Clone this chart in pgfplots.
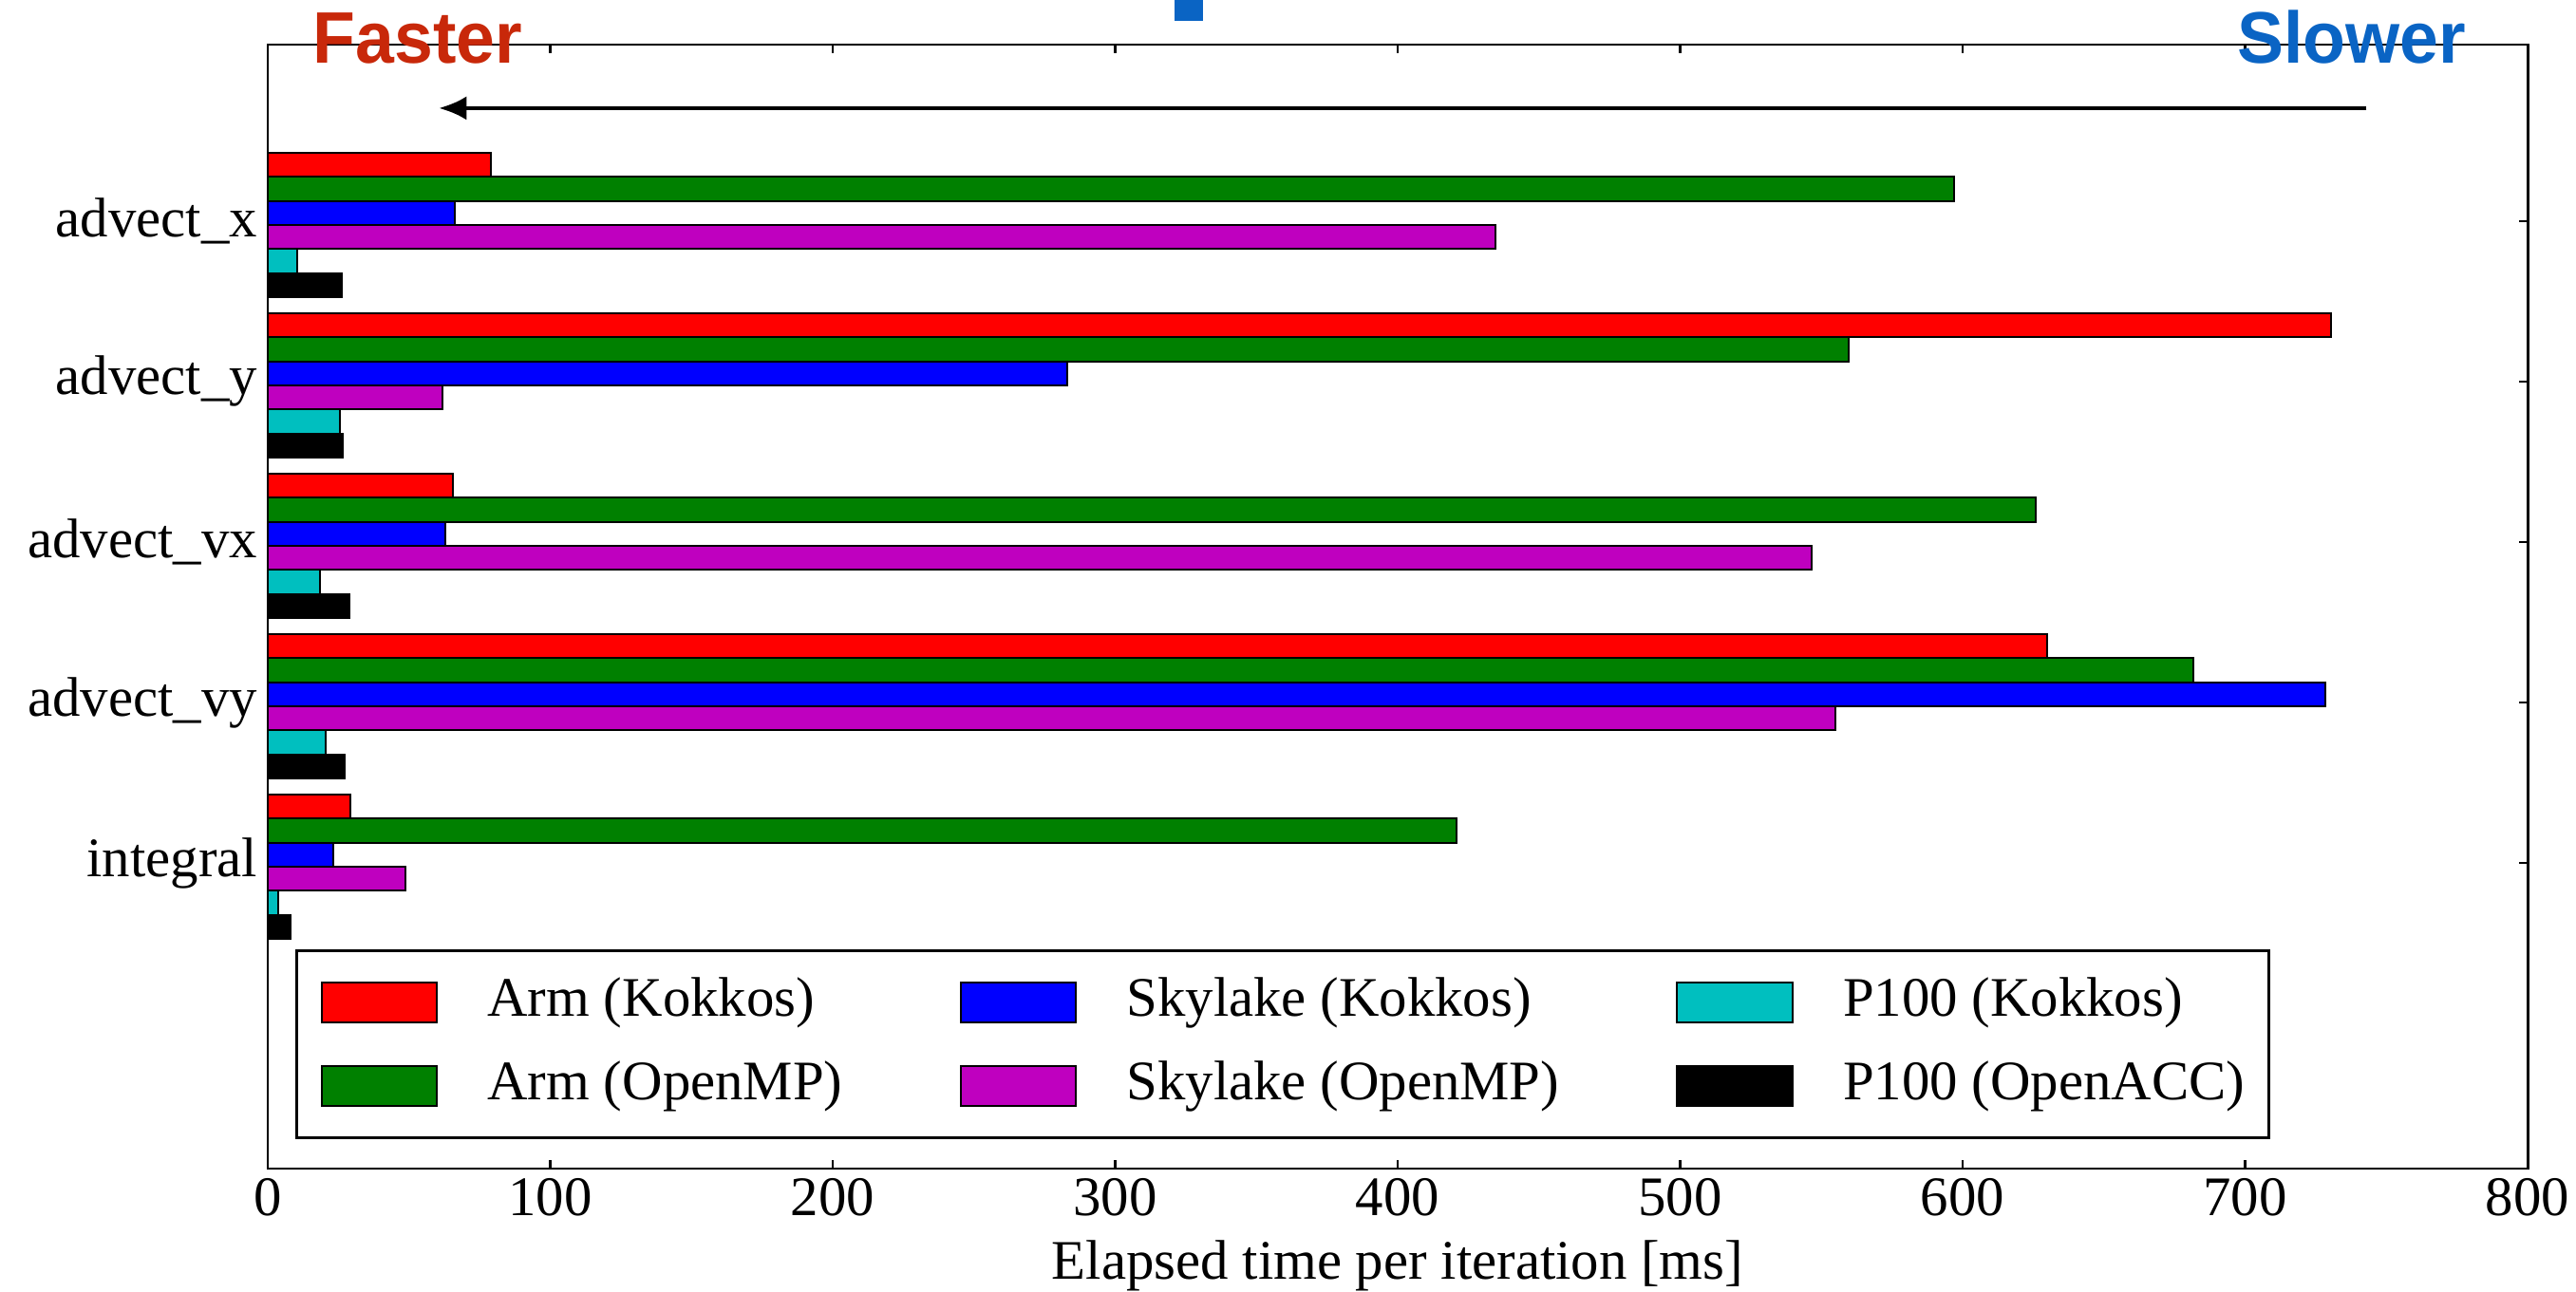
\documentclass[border=0pt]{standalone}
\usepackage{fontspec}
\setmainfont{Liberation Serif}
\newfontfamily\arialfont{Liberation Sans}
\usepackage{pgfplots}
\pgfplotsset{compat=1.18}
\usetikzlibrary{arrows.meta}
\definecolor{mgreen}{rgb}{0,0.5,0}
\definecolor{mmag}{rgb}{0.75,0,0.75}
\definecolor{mcyan}{rgb}{0,0.75,0.75}
\definecolor{fasterred}{RGB}{200,40,10}
\definecolor{slowerblue}{RGB}{10,100,196}
\begin{document}
\begin{tikzpicture}
\begin{axis}[
  name=ax,
  scale only axis,
  width=566.67pt, height=281.9pt,
  xbar, bar width=0.15,
  xmin=0, xmax=800,
  ymin=-1.10, ymax=5.905,
  y dir=reverse,
  clip=false,
  xtick={0,100,...,800},
  ytick={0,1,2,3,4},
  yticklabels={advect\_x,advect\_y,advect\_vx,advect\_vy,integral},
  xtick pos=both, ytick pos=both,
  tick align=inside,
  major tick length=2.2pt,
  tick style={black, line width=0.5pt},
  axis line style={line width=0.7pt},
  /pgf/number format/assume math mode=true,
  tick label style={font=\fontsize{14}{16}\selectfont},
  xticklabel style={anchor=base, yshift=-11.9pt},
  yticklabel style={inner xsep=2.4pt},
  xlabel={Elapsed time per iteration [ms]},
  xlabel style={font=\fontsize{14}{16}\selectfont, at={(axis description cs:0.5,-0.098)}, anchor=base},
  legend columns=3,
  legend cell align=left,
  legend style={at={(0.0122,0.0262)}, anchor=south west, draw=black, line width=0.6pt, fill=white,
    inner xsep=6pt, inner ysep=6pt, row sep=7pt,
    nodes={inner sep=0pt, text height=10.5pt, text depth=3.5pt, font=\fontsize{14}{16}\selectfont},
    /tikz/every even column/.append style={column sep=29.3pt}},
  every axis plot post/.append style={legend image code/.code={\draw[##1] (0pt,-5pt) rectangle (29pt,5pt); \path (41.4pt,0pt);}},
]
\addplot[fill=red, draw=black, line width=0.5pt, bar shift=-0.351] coordinates {(79,0) (730.4,1) (65.6,2) (630,3) (29.3,4)};
\addlegendentry{Arm (Kokkos)}
\addplot[fill=blue, draw=black, line width=0.5pt, bar shift=-0.051] coordinates {(66.2,0) (283,1) (62.9,2) (728.3,3) (23.2,4)};
\addlegendentry{Skylake (Kokkos)}
\addplot[fill=mcyan, draw=black, line width=0.5pt, bar shift=0.249] coordinates {(10.4,0) (25.6,1) (18.5,2) (20.5,3) (3.7,4)};
\addlegendentry{P100 (Kokkos)}
\addplot[fill=mgreen, draw=black, line width=0.5pt, bar shift=-0.201] coordinates {(597,0) (559.7,1) (625.8,2) (681.8,3) (420.8,4)};
\addlegendentry{Arm (OpenMP)}
\addplot[fill=mmag, draw=black, line width=0.5pt, bar shift=0.099] coordinates {(434.6,0) (61.9,1) (546.4,2) (555,3) (48.7,4)};
\addlegendentry{Skylake (OpenMP)}
\addplot[fill=black, draw=black, line width=0.5pt, bar shift=0.399] coordinates {(26.2,0) (26.6,1) (28.9,2) (27.3,3) (8.1,4)};
\addlegendentry{P100 (OpenACC)}
\draw[-{Latex[length=7pt,width=6pt]}, line width=1.1pt] (axis cs:743,-0.704) -- (axis cs:60.5,-0.704);
\coordinate (fpos) at (axis cs:15.8,-0.982);
\coordinate (spos) at (axis cs:778.5,-0.982);
\fill[slowerblue] (axis cs:321,-1.42) rectangle (axis cs:331,-1.248);
\end{axis}
\node[anchor=base west, inner sep=0pt, xscale=0.955, text=fasterred, font=\arialfont\bfseries\fontsize{18.3}{20}\selectfont] at (fpos) {Faster};
\node[anchor=base east, inner sep=0pt, xscale=0.955, text=slowerblue, font=\arialfont\bfseries\fontsize{18.3}{20}\selectfont] at (spos) {Slower};
\pgfresetboundingbox
\path[use as bounding box] ([xshift=-67.14pt,yshift=-30.95pt]ax.south west) rectangle ([xshift=12.14pt,yshift=11.19pt]ax.north east);
\end{tikzpicture}
\end{document}
